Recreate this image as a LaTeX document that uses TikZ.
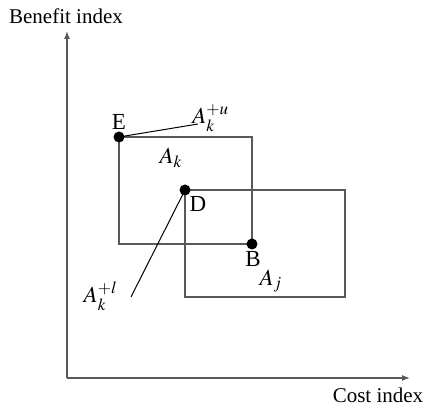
\documentclass[tikz,border=0pt]{standalone}
\usepackage{mathptmx}
\usepackage{fontspec}
\setmainfont{Liberation Serif}
\usetikzlibrary{arrows.meta}
\begin{document}
\begin{tikzpicture}[x=0.5pt,y=-0.5pt,
  axis/.style={draw=black!65,line width=0.6pt,-{Latex[length=4pt,width=3pt]}},
  boxline/.style={draw=black!65,line width=0.6pt},
  dot/.style={circle,fill=black,inner sep=0pt,minimum size=5.5pt},
  lbl/.style={font=\fontsize{10.5}{12}\selectfont,inner sep=1pt},
  mlbl/.style={font=\fontsize{11.5}{13}\selectfont,inner sep=1pt},
  leader/.style={draw=black,line width=0.5pt}]
\useasboundingbox (0,0) rectangle (424,406);
\coordinate (O) at (67,378);
\coordinate (ytip) at (67,31);
\coordinate (xtip) at (410,378);
\draw[axis] (O) -- (ytip);
\draw[axis] (O) -- (xtip);
\node[lbl] (ylab) at (66,16) {Benefit index};
\node[lbl] (xlab) at (378,395) {Cost index};
% boxes
\draw[boxline] (119,137) rectangle (252,244);
\draw[boxline] (185,190) rectangle (345,297);
% dots
\node[dot] (E) at (119,137) {};
\node[dot] (D) at (185,190) {};
\node[dot] (B) at (252,244) {};
\node[mlbl] (Elab) at (119,122) {E};
\node[mlbl] (Dlab) at (198,204) {D};
\node[mlbl] (Blab) at (253,259) {B};
\node[mlbl] (Ak) at (171,158) {$A_k$};
\node[mlbl] (Aj) at (271,281) {$A_j$};
\node[mlbl,anchor=west] (Aku) at (190,118) {$A_k^{+u}$};
\node[mlbl,anchor=east] (Akl) at (120,296) {$A_k^{+l}$};
\coordinate (u1) at (198,124);
\coordinate (l1) at (131,297);
\draw[leader] (E.center) -- (u1);
\draw[leader] (D.center) -- (l1);
\end{tikzpicture}
\end{document}
